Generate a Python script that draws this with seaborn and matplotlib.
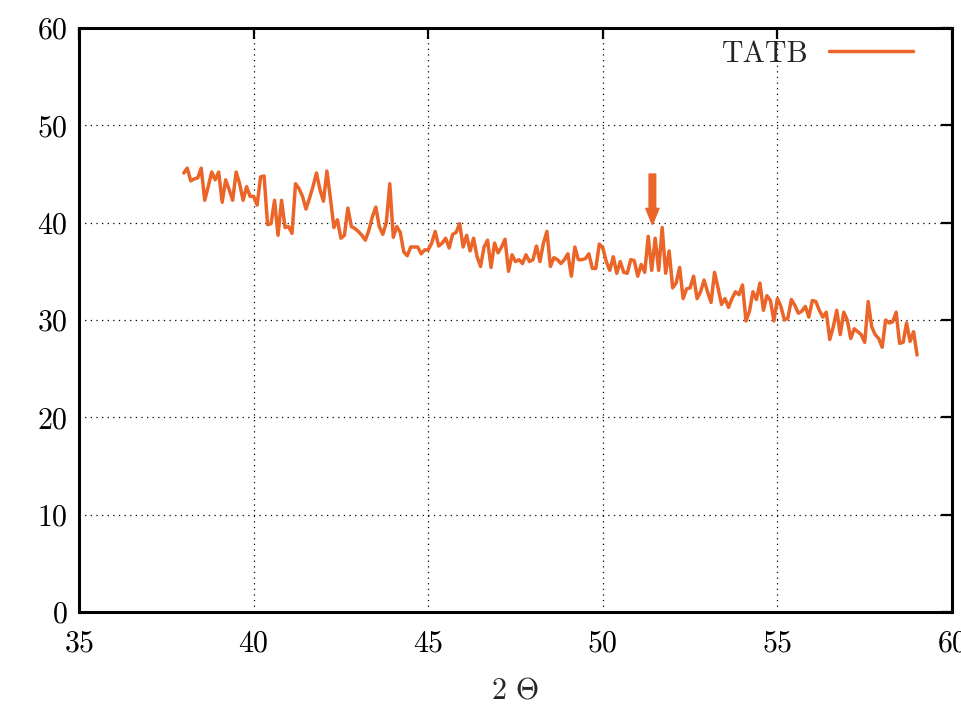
import numpy as np
import pandas as pd
import matplotlib
matplotlib.use("Agg")
import matplotlib.pyplot as plt
import seaborn as sns

# Scan: 2-theta from 38.0 to 59.0 in 0.1 degree steps
theta_start, theta_stop, theta_step = 38.0, 59.0, 0.1
two_theta = np.round(np.arange(theta_start, theta_stop + theta_step / 2, theta_step), 1)

intensity = [
    45.1, 45.6, 44.3, 44.5, 44.6, 45.6, 42.3, 43.7, 45.2, 44.4,
    45.2, 42.1, 44.4, 43.4, 42.3, 45.2, 44.0, 42.3, 43.7, 42.7,
    42.7, 41.8, 44.7, 44.8, 39.8, 39.9, 42.3, 38.7, 42.3, 39.5,
    39.6, 38.9, 44.0, 43.5, 42.7, 41.4, 42.5, 43.7, 45.1, 43.4,
    42.2, 45.3, 42.5, 39.5, 40.3, 38.4, 38.7, 41.5, 39.6, 39.4,
    39.1, 38.7, 38.2, 39.2, 40.6, 41.6, 39.6, 38.8, 40.0, 44.0,
    38.5, 39.6, 39.0, 37.0, 36.6, 37.5, 37.5, 37.5, 36.8, 37.2,
    37.2, 37.9, 39.1, 37.6, 37.9, 38.4, 37.4, 38.8, 39.0, 39.9,
    37.5, 38.7, 37.1, 38.4, 36.5, 35.5, 37.5, 38.2, 35.4, 37.9,
    36.9, 37.5, 38.3, 35.0, 36.7, 36.0, 36.2, 35.8, 36.7, 36.0,
    36.2, 37.6, 36.0, 37.9, 39.1, 35.5, 36.4, 36.2, 35.8, 36.2,
    36.8, 34.5, 37.5, 36.2, 36.2, 36.3, 36.8, 35.3, 35.3, 37.8,
    37.4, 36.0, 35.1, 36.5, 34.8, 36.0, 34.9, 34.8, 36.2, 36.1,
    34.5, 35.7, 34.9, 38.6, 35.1, 38.4, 35.1, 39.5, 34.8, 37.1,
    33.3, 33.8, 35.4, 32.2, 33.2, 33.3, 34.5, 32.2, 32.9, 34.1,
    32.9, 31.8, 34.9, 33.3, 31.6, 32.2, 31.3, 32.2, 32.9, 32.6,
    33.6, 29.9, 30.9, 32.9, 32.1, 33.8, 31.0, 32.5, 32.0, 29.9,
    32.2, 31.4, 30.0, 30.2, 32.1, 31.5, 30.7, 30.9, 31.4, 30.3,
    32.0, 31.9, 31.0, 30.3, 30.8, 28.0, 29.3, 31.0, 28.5, 30.8,
    30.0, 28.1, 29.1, 28.8, 28.5, 27.7, 31.9, 29.3, 28.5, 28.1,
    27.2, 30.0, 29.7, 29.8, 30.8, 27.6, 27.7, 29.7, 27.8, 28.8,
    26.4,
]

series_name = "TATB"
x_ticks = [35, 40, 45, 50, 55, 60]
y_ticks = [0, 10, 20, 30, 40, 50, 60]

# Marker arrow pointing at the reflection near 51.4 degrees
arrow_x = 51.42
arrow_top = 45.0
arrow_tip = 39.8

line_color = "#EB6428"
font_size = 21.5

sns.set_theme(style="white")
plt.rcParams.update({
    "font.family": ["cmr10", "DejaVu Serif"],
    "mathtext.fontset": "cm",
    "axes.formatter.use_mathtext": True,
    "axes.edgecolor": "black",
    "axes.linewidth": 2.2,
    "xtick.color": "black",
    "ytick.color": "black",
})

df = pd.DataFrame({"two_theta": two_theta, "intensity": intensity,
                   "sample": series_name})

fig = plt.figure(figsize=(9.62, 7.13), dpi=100)
ax = fig.add_axes([79 / 962, 101 / 713, 873 / 962, 584 / 713])

sns.lineplot(data=df, x="two_theta", y="intensity", hue="sample",
             palette=[line_color], linewidth=2.5, ax=ax)

ax.set_xlim(35, 60)
ax.set_ylim(0, 60)
ax.set_xticks(x_ticks)
ax.set_yticks(y_ticks)
ax.grid(True, color="black", linestyle=(0, (1, 3.5)), linewidth=0.9)
ax.tick_params(direction="in", length=8, width=1.6, top=True, right=True,
               labelsize=font_size)
ax.tick_params(axis="x", pad=13)
ax.tick_params(axis="y", pad=8)
for s in ax.spines.values():
    s.set_visible(True)
    s.set_linewidth(2.2)
    s.set_color("black")

ax.set_xlabel(r"2 $\Theta$", fontsize=font_size, labelpad=14)
ax.set_ylabel("")

ax.arrow(arrow_x, arrow_top, 0, arrow_tip - arrow_top, width=0.19,
         head_width=0.38, head_length=1.67, length_includes_head=True,
         color=line_color, zorder=5)

leg = ax.legend(loc="upper right", bbox_to_anchor=(0.9553, 0.979),
                frameon=False, fontsize=font_size, handlelength=2.8,
                handletextpad=0.7, borderpad=0, borderaxespad=0,
                markerfirst=False)
for h in leg.get_lines():
    h.set_linewidth(2.5)

fig.savefig("out.png", dpi=100)
